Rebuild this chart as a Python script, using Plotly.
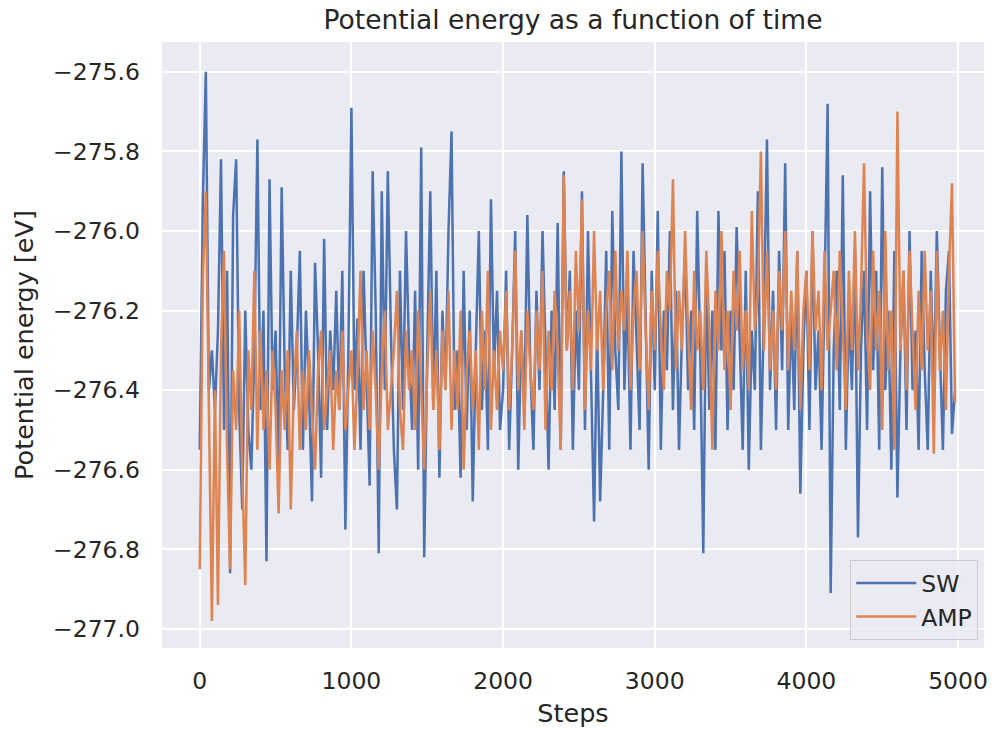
import plotly.graph_objects as go

steps = list(range(0, 5000, 20))

sw = [
    -276.55, -275.93, -275.60, -276.40, -276.30, -276.45, -276.25, -275.82, -276.50, -276.10,
    -276.86, -275.96, -275.82, -276.45, -276.70, -276.20, -276.50, -276.60, -276.30, -275.77,
    -276.45, -276.20, -276.83, -275.87, -276.40, -276.25, -276.60, -275.89, -276.35, -276.55,
    -276.10, -276.45, -276.30, -276.05, -276.55, -276.20, -276.40, -276.68, -276.08, -276.30,
    -276.62, -276.02, -276.50, -276.25, -276.40, -276.15, -276.45, -276.10, -276.75, -276.30,
    -275.69, -276.40, -276.22, -276.55, -276.10, -276.35, -276.64, -275.85, -276.20, -276.81,
    -275.90, -276.40, -275.85, -276.25, -276.55, -276.70, -276.10, -276.45, -276.00, -276.30,
    -276.50, -276.15, -276.60, -275.79, -276.82, -276.30, -275.90, -276.45, -276.10, -276.62,
    -276.20, -276.40, -276.00, -275.75, -276.45, -276.30, -276.62, -276.10, -276.50, -276.20,
    -276.68, -276.30, -276.00, -276.45, -276.25, -276.55, -275.92, -276.35, -276.15, -276.50,
    -276.40, -276.10, -276.55, -276.30, -276.00, -276.60, -276.25, -276.45, -275.96, -276.35,
    -276.55, -276.15, -276.40, -276.00, -276.30, -276.60, -276.20, -276.45, -275.98, -276.55,
    -275.85, -276.30, -276.10, -276.55, -276.20, -276.40, -275.90, -276.50, -276.00, -276.35,
    -276.73, -276.25, -276.68, -276.40, -276.05, -276.55, -275.95, -276.30, -276.45, -275.80,
    -276.40, -276.15, -276.55, -276.05, -276.30, -276.50, -275.83, -276.25, -276.60, -276.10,
    -276.40, -275.95, -276.55, -276.20, -276.35, -276.00, -276.45, -276.15, -276.55, -276.25,
    -276.05, -276.40, -276.20, -276.50, -275.95, -276.30, -276.81, -276.10, -276.45, -276.20,
    -276.55, -275.95, -276.30, -276.05, -276.50, -276.20, -276.40, -275.99, -276.30, -276.55,
    -276.10, -276.60, -276.25, -276.40, -275.90, -276.55, -276.20, -275.77, -276.40, -276.15,
    -276.50, -276.05, -276.35, -275.83, -276.50, -276.20, -276.45, -276.05, -276.66, -276.30,
    -276.10, -276.50, -276.00, -276.40, -276.25, -276.55, -276.15, -275.68, -276.91, -276.30,
    -276.10, -276.45, -275.86, -276.55, -276.20, -276.40, -276.05, -276.77, -276.30, -276.10,
    -276.50, -275.90, -276.35, -276.10, -276.55, -275.84, -276.40, -276.20, -276.60, -276.05,
    -276.67, -276.30, -276.10, -276.50, -276.00, -276.40, -276.25, -276.55, -276.05, -276.35,
    -276.55, -276.10, -276.40, -276.00, -276.30, -276.55, -276.15, -276.05, -276.51, -276.40,
]

amp = [
    -276.85, -276.12, -275.90, -276.50, -276.98, -276.40, -276.94, -276.30, -276.05, -276.55,
    -276.85, -276.35, -276.50, -276.20, -276.60, -276.89, -276.30, -276.45, -276.10, -276.55,
    -276.25, -276.50, -276.35, -276.60, -276.30, -276.45, -276.71, -276.35, -276.50, -276.30,
    -276.70, -276.40, -276.25, -276.55, -276.35, -276.50, -276.30, -276.45, -276.60, -276.35,
    -276.25, -276.50, -276.40, -276.30, -276.55, -276.35, -276.45, -276.25, -276.50, -276.40,
    -276.30, -276.55, -276.35, -276.10, -276.45, -276.30, -276.50, -276.25, -276.40, -276.60,
    -276.35, -276.20, -276.50, -276.40, -276.30, -276.15, -276.45, -276.55, -276.25, -276.40,
    -276.30, -276.50, -276.20, -276.40, -276.60, -276.35, -276.15, -276.45, -276.30, -276.55,
    -276.25, -276.40, -276.15, -276.50, -276.30, -276.45, -276.20, -276.60, -276.35, -276.25,
    -276.45, -276.30, -276.55, -276.20, -276.40, -276.10, -276.50, -276.30, -276.45, -276.25,
    -276.35, -276.15, -276.45, -276.30, -276.05, -276.40, -276.25, -276.50, -276.20, -276.35,
    -276.45, -276.20, -276.35, -276.10, -276.50, -276.25, -276.40, -276.15, -276.30, -276.55,
    -275.86, -276.30, -276.15, -276.40, -276.05, -276.25, -275.92, -276.45, -276.20, -276.35,
    -276.00, -276.30, -276.15, -276.40, -276.20, -276.10, -276.35, -276.05, -276.30, -276.15,
    -276.25, -276.05, -276.40, -276.20, -276.10, -276.35, -276.00, -276.25, -276.45, -276.15,
    -276.30, -276.05, -276.25, -276.40, -276.10, -276.20, -275.87, -276.35, -276.15, -276.30,
    -276.00, -276.25, -276.45, -276.10, -276.30, -276.20, -276.40, -276.05, -276.25, -276.55,
    -276.15, -276.30, -276.00, -276.35, -276.20, -276.45, -276.10, -276.25, -276.05, -276.35,
    -276.20, -276.40, -275.95, -276.25, -276.15, -275.80, -276.30, -276.05, -276.35, -276.20,
    -276.40, -276.10, -276.25, -276.00, -276.35, -276.15, -276.30, -276.05, -276.45, -276.20,
    -276.10, -276.35, -276.00, -276.25, -276.15, -276.40, -276.05, -276.30, -276.20, -276.10,
    -276.35, -276.05, -276.25, -276.45, -276.10, -276.30, -276.00, -276.35, -276.15, -275.83,
    -276.25, -276.40, -276.05, -276.30, -276.15, -276.50, -276.00, -276.35, -276.20, -276.55,
    -275.70, -276.30, -276.10, -276.40, -276.05, -276.25, -276.45, -276.15, -276.35, -276.05,
    -276.30, -276.15, -276.56, -276.05, -276.35, -276.20, -276.45, -276.10, -275.88, -276.43,
]

y_ticks = [-275.6, -275.8, -276.0, -276.2, -276.4, -276.6, -276.8, -277.0]
x_ticks = [0, 1000, 2000, 3000, 4000, 5000]

font_family = "DejaVu Sans, Arial, sans-serif"
text_color = "#262626"

fig = go.Figure()
fig.add_trace(go.Scatter(x=steps, y=sw, mode="lines", name="SW",
                         line=dict(color="#4C72B0", width=2.5)))
fig.add_trace(go.Scatter(x=steps, y=amp, mode="lines", name="AMP",
                         line=dict(color="#DD8452", width=2.5)))

fig.update_layout(
    width=992, height=729,
    margin=dict(l=162, r=4, t=42, b=81),
    paper_bgcolor="white",
    plot_bgcolor="#EAEAF2",
    font=dict(family=font_family, color=text_color, size=23.5),
    title=dict(text="Potential energy as a function of time", x=0.5, xanchor="center",
               xref="paper", y=0.973, yanchor="middle",
               font=dict(size=26.5, color=text_color)),
    showlegend=True,
    legend=dict(x=0.993, y=0.013, xanchor="right", yanchor="bottom",
                bgcolor="rgba(234,234,242,0.8)", bordercolor="#CCCCCC", borderwidth=1,
                font=dict(size=23.5, color=text_color), itemwidth=60,
                tracegroupgap=0),
)
fig.update_xaxes(
    range=[-249, 5171], tickvals=x_ticks, ticktext=[str(v) for v in x_ticks],
    showgrid=True, gridcolor="white", gridwidth=1.5, zeroline=False,
    showline=False, ticks="", ticklen=0, ticklabelstandoff=16,
    title=dict(text="Steps", font=dict(size=25.5), standoff=10),
    tickfont=dict(size=23.5),
)
fig.update_yaxes(
    range=[-277.048, -275.525], tickvals=y_ticks,
    ticktext=["\u2212" + f"{abs(v):.1f}" for v in y_ticks],
    showgrid=True, gridcolor="white", gridwidth=1.5, zeroline=False,
    showline=False, ticks="", ticklen=0, ticklabelstandoff=21,
    title=dict(text="Potential energy [eV]", font=dict(size=25.5), standoff=12),
    tickfont=dict(size=23.5),
)

fig.write_html("out.html")
